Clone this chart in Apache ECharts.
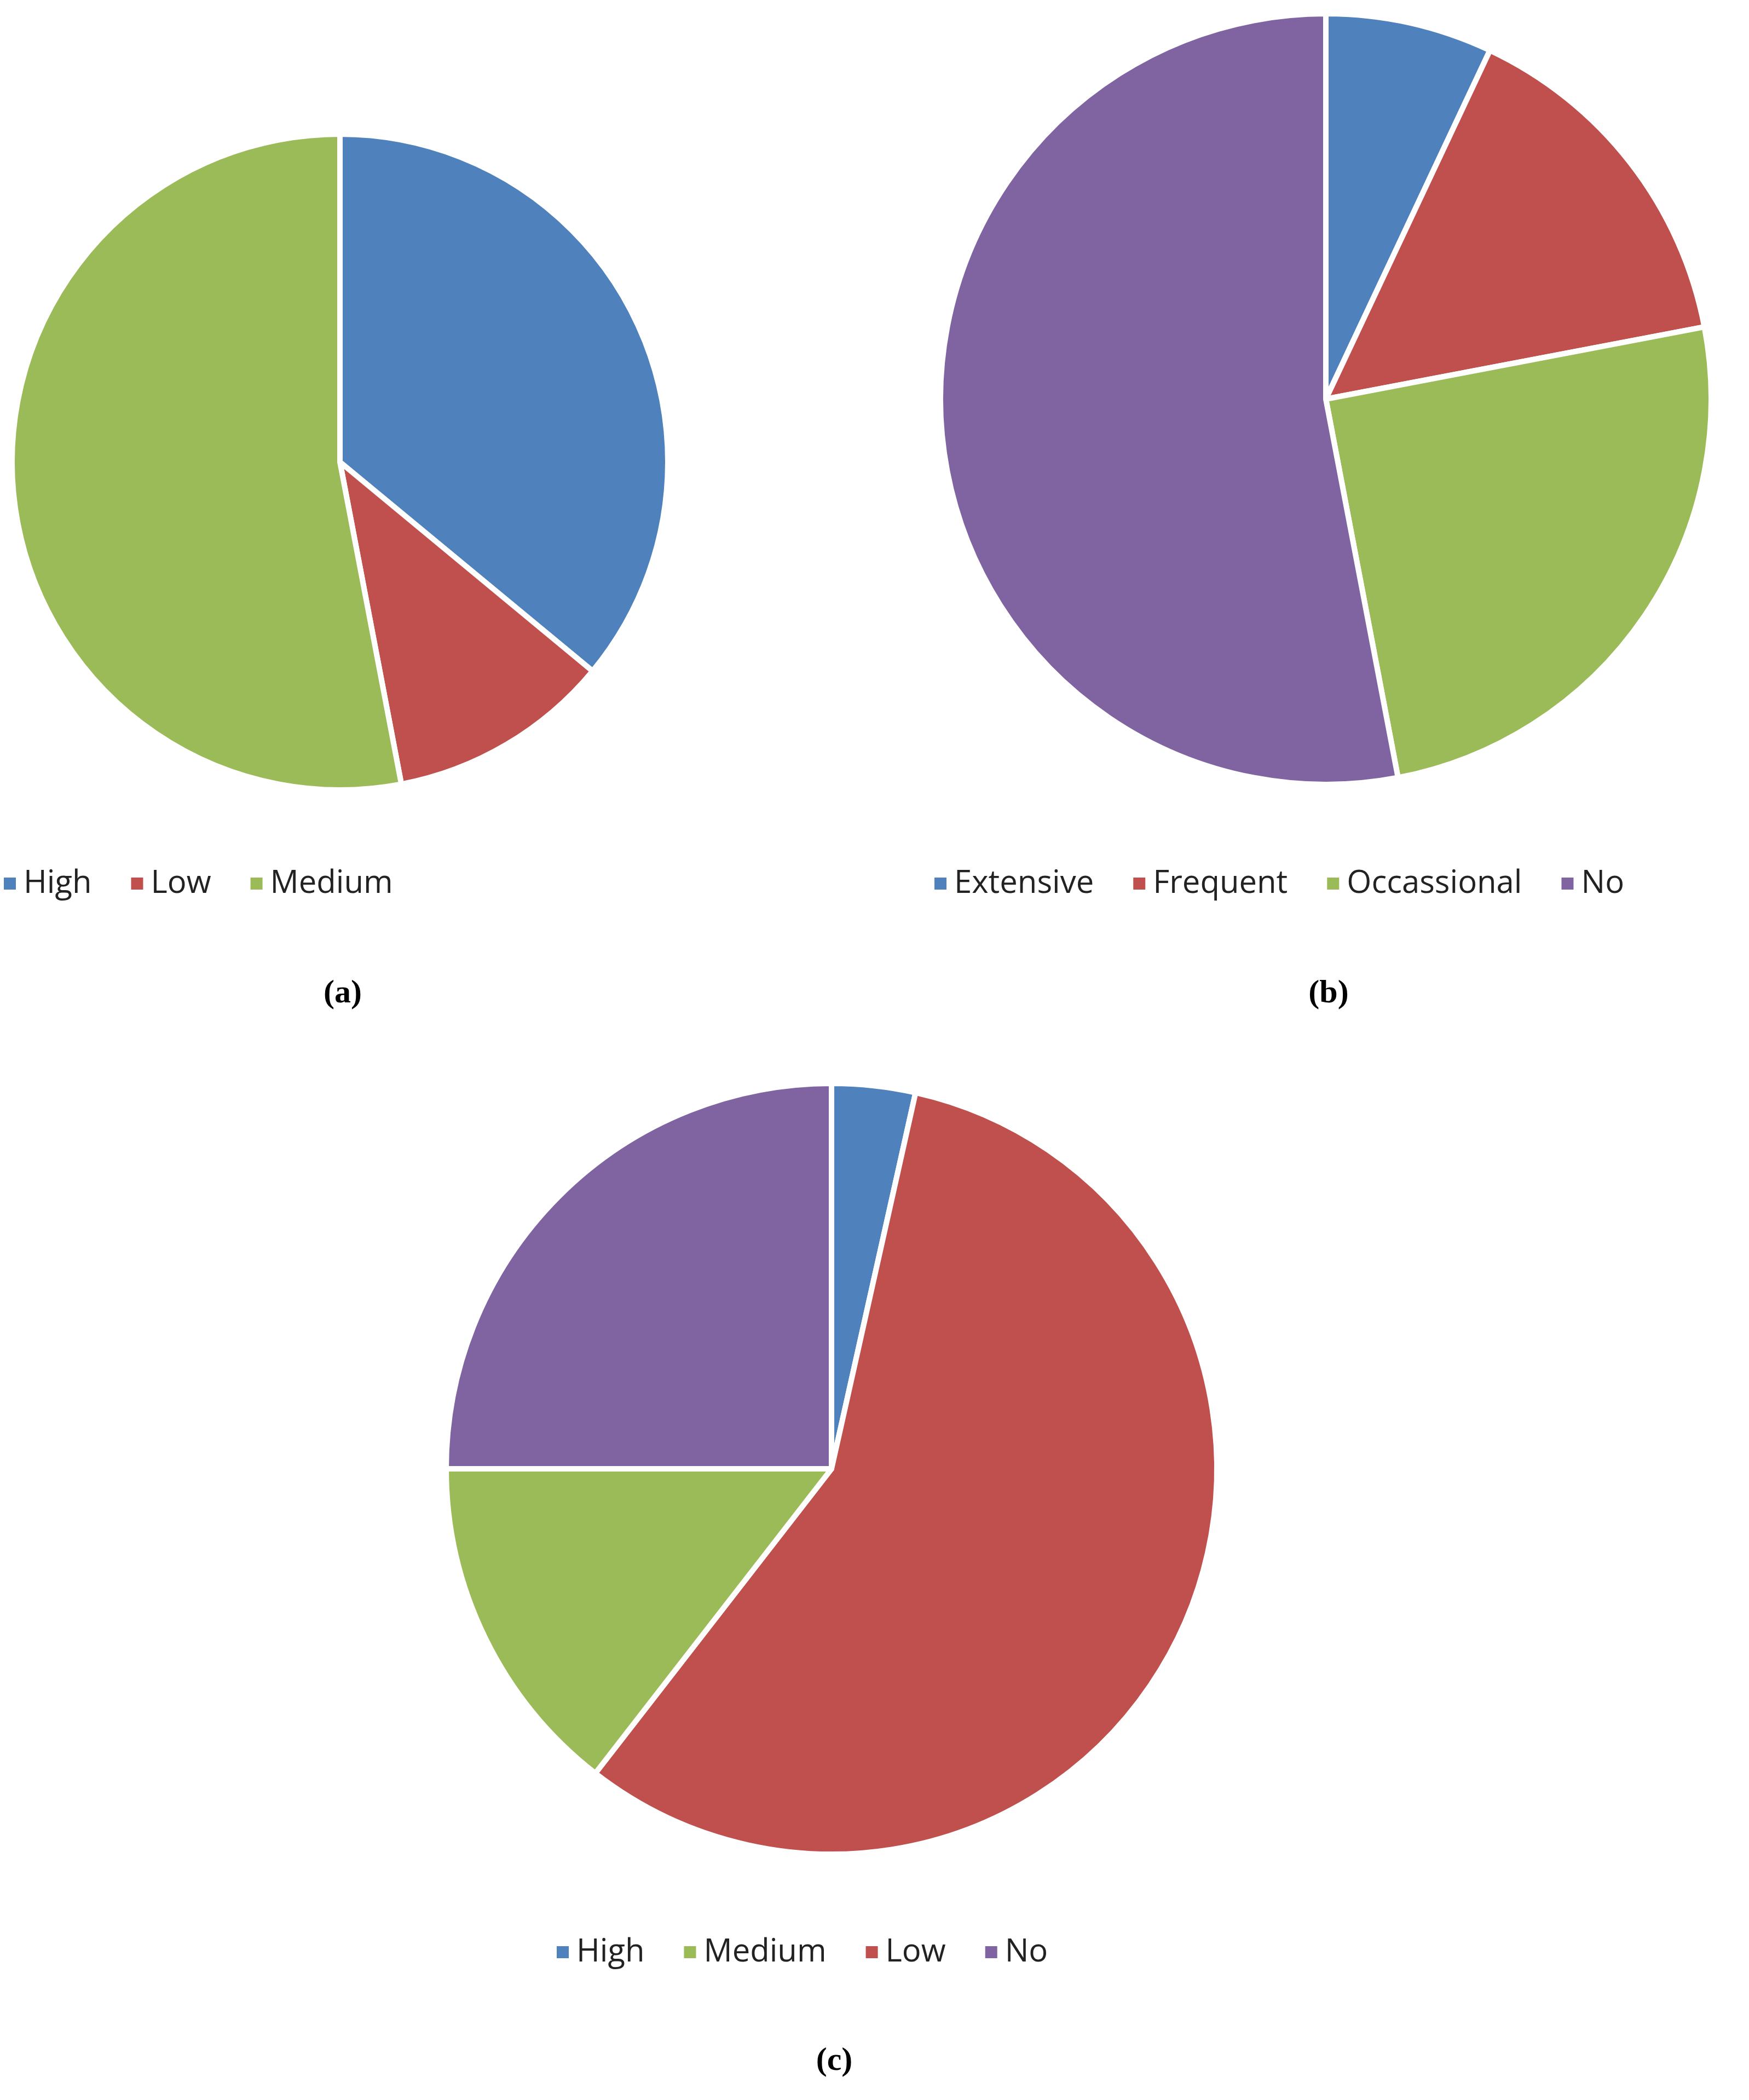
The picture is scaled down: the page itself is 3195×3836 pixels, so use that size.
<!DOCTYPE html>
<html><head><meta charset="utf-8">
<script src="https://cdn.jsdelivr.net/npm/echarts@6/dist/echarts.min.js"></script>
<style>html,body{margin:0;padding:0;background:#fff}#c{width:3195px;height:3836px}</style>
</head><body><div id="c"></div>
<script>
const catsA = ['High','Low','Medium'];
const valsA = [36,11,53];
const catsB = ['Extensive','Frequent','Occassional','No'];
const valsB = [7,15,25,53];
const catsC = ['High','Medium','Low','No'];
const valsC = [3.5,57,14.5,25];
const captions = ['a','b','c'];
const colors = ['#4F81BD','#C0504D','#9BBB59','#8064A2'];

function pie(cats, vals, center, r){
  return {type:'pie', radius:r, center:center, startAngle:90, clockwise:true,
    label:{show:false}, labelLine:{show:false}, emphasis:{disabled:true}, animation:false,
    itemStyle:{borderColor:'#fff', borderWidth:10},
    data:cats.map((c,i)=>({name:c, value:vals[i], itemStyle:{color:colors[i]}}))};
}
function legend(cats, x, y){
  return {data:cats, left:x, top:y, icon:'rect', itemWidth:24, itemHeight:24, itemGap:70,
    textStyle:{fontFamily:'Open Sans', fontSize:58, color:'#222', padding:[0,0,0,8]}};
}
function cap(t, x, y){
  return {text:'{n|(}{b|'+t+'}{n|)}', left:x, top:y, textAlign:'center',
    textStyle:{rich:{n:{fontFamily:'Liberation Serif', fontSize:60, color:'#000'},
      b:{fontFamily:'Liberation Serif', fontSize:60, fontWeight:'bold', color:'#000'}}}};
}
const chart = echarts.init(document.getElementById('c'));
chart.setOption({
  animation:false,
  color:colors,
  title:[cap(captions[0],621,1780), cap(captions[1],2422,1780), cap(captions[2],1519,3730)],
  legend:[
    {...legend(catsA,0,1580), left:'center', right:undefined, width:1242, left:0},
    legend(catsB,1700,1580),
    legend(catsC,1010,3532)
  ],
  series:[pie(catsA,valsA,[621,844],599), pie(catsB,valsB,[2422,729],704), pie(catsC,valsC,[1519,2683],704)]
});
const o = chart.getOption();
</script></body></html>
